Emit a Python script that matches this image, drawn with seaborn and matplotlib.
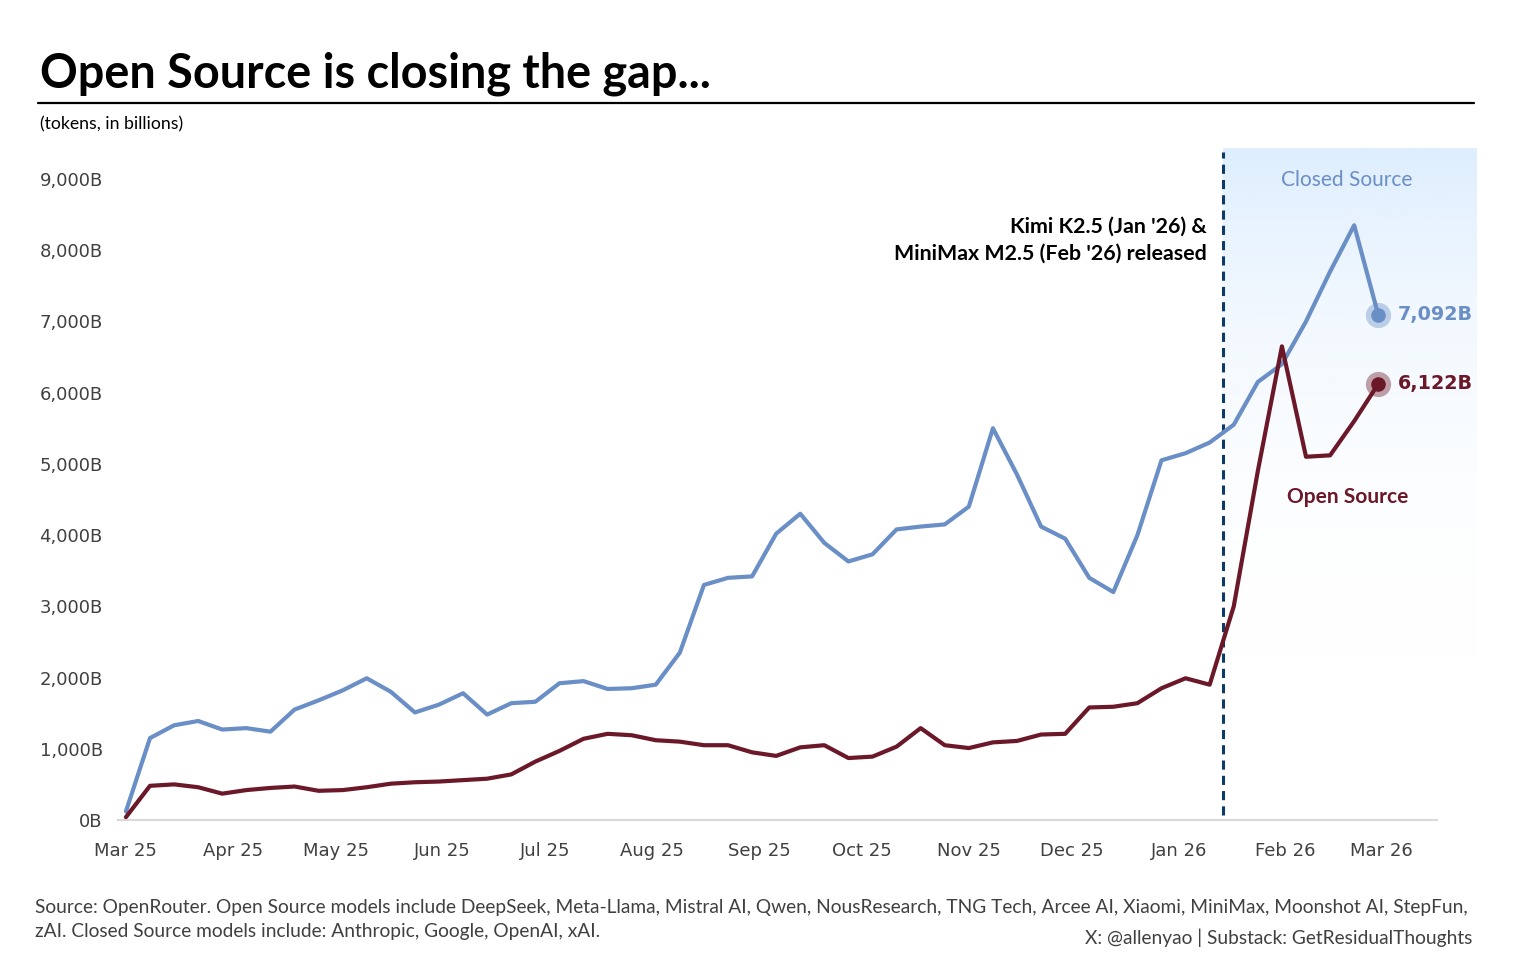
import pandas as pd
import numpy as np
import matplotlib
matplotlib.use("Agg")
import matplotlib.pyplot as plt
import matplotlib.dates as mdates
from matplotlib.lines import Line2D
from matplotlib.ticker import FuncFormatter
import seaborn as sns

# Weekly token volume on OpenRouter (billions)
START_DATE = "2025-03-01"
closed_source = [120, 1150, 1330, 1390, 1270, 1290, 1240, 1550, 1680, 1820, 1990, 1800, 1510, 1620, 1780, 1480, 1640,
                 1660, 1920, 1950, 1840, 1850, 1900, 2350, 3300, 3400, 3420, 4020, 4300, 3890, 3630, 3730, 4080, 4120,
                 4150, 4400, 5500, 4850, 4120, 3950, 3400, 3200, 4000, 5050, 5150, 5300, 5550, 6150, 6400, 7000, 7700,
                 8350, 7092]
open_source = [40, 480, 500, 460, 370, 420, 450, 470, 410, 420, 460, 510, 530, 540, 560, 580, 640,
               820, 970, 1140, 1210, 1190, 1120, 1100, 1050, 1050, 950, 900, 1020, 1050, 870, 890, 1030, 1290,
               1050, 1010, 1090, 1110, 1200, 1210, 1580, 1590, 1640, 1850, 1990, 1900, 3000, 4900, 6650, 5100, 5120,
               5600, 6122]
release_date = "2026-01-14"
y_ticks = [0, 1000, 2000, 3000, 4000, 5000, 6000, 7000, 8000, 9000]

BLUE = "#6a8ec6"
MAROON = "#6b1829"
NAVY = "#0d3b66"
GREY = "#404040"

W, H = 1531, 964


def fx(x):
    return x / W


def fy(y):
    return 1 - y / H


dates = pd.date_range(START_DATE, periods=len(closed_source), freq="7D")
df = pd.DataFrame({"Date": dates, "Closed Source": closed_source, "Open Source": open_source})
df_long = df.melt(id_vars="Date", var_name="Type", value_name="Tokens")

sns.set_style("white")
plt.rcParams["font.family"] = ["DejaVu Sans"]

fig = plt.figure(figsize=(W / 100, H / 100), dpi=100)
ax = fig.add_axes([fx(118), fy(820), fx(1477) - fx(118), fy(148) - fy(820)])

# gradient shading after the release line
start = pd.Timestamp(START_DATE)
x_left = mdates.date2num(start - pd.Timedelta(days=2.3))
x_right = mdates.date2num(start + pd.Timedelta(days=392.7))
x_rel = mdates.date2num(pd.Timestamp(release_date))
y_top = 9435

t = np.linspace(0, 1, 256)
grad = np.zeros((256, 1, 4))
grad[:, 0, 0] = 222 / 255
grad[:, 0, 1] = 238 / 255
grad[:, 0, 2] = 254 / 255
grad[:, 0, 3] = (1 - t) ** 2.5
ax.imshow(grad, extent=[x_rel, x_right, 1400, y_top], aspect="auto", origin="upper", zorder=0)

sns.lineplot(data=df_long, x="Date", y="Tokens", hue="Type",
             palette={"Closed Source": BLUE, "Open Source": MAROON},
             linewidth=3.0, ax=ax, legend=False, zorder=3)
for line in ax.get_lines():
    line.set_solid_joinstyle("round")
    line.set_solid_capstyle("round")

ax.plot([x_rel, x_rel], [70, 9380], color=NAVY, lw=2.2, linestyle=(0, (3, 2)), zorder=2)

# end markers with halo
last = df.iloc[-1]
for col, c in [("Closed Source", BLUE), ("Open Source", MAROON)]:
    ax.scatter([last["Date"]], [last[col]], s=330, color=c, alpha=0.4, lw=0, zorder=4)
    ax.scatter([last["Date"]], [last[col]], s=110, color=c, lw=0, zorder=5)
    ax.annotate(f"{last[col]:,.0f}B", (last["Date"], last[col]), xytext=(14, 0),
                textcoords="offset points", va="center", ha="left", color=c,
                fontsize=13.8, fontweight="bold", zorder=6)

ax.set_xlim(x_left, x_right)
ax.set_ylim(0, y_top)
ax.set_yticks(y_ticks)
ax.yaxis.set_major_formatter(FuncFormatter(lambda v, p: f"{v:,.0f}B"))
months = pd.date_range("2025-03-01", "2026-03-01", freq="MS")
ax.set_xticks(months)
ax.set_xticklabels([m.strftime("%b %y") for m in months])
ax.tick_params(axis="both", length=0, colors=GREY, labelsize=13)
ax.tick_params(axis="y", pad=11)
ax.tick_params(axis="x", pad=16)
ax.set_xlabel("")
ax.set_ylabel("")
for s in ["top", "right", "left"]:
    ax.spines[s].set_visible(False)
ax.spines["bottom"].set_color("#d9d9d9")
ax.spines["bottom"].set_linewidth(1.5)
ax.spines["bottom"].set_bounds(x_left, mdates.date2num(start + pd.Timedelta(days=381)))
ax.grid(False)

# labels inside the chart
fig.text(fx(1347), fy(180), "Closed Source", ha="center", va="center", color=BLUE,
         fontsize=15, family="Lato")
fig.text(fx(1348), fy(497), "Open Source", ha="center", va="center", color=MAROON,
         fontsize=15, fontweight="bold", family="Lato")
fig.text(fx(1207), fy(240), "Kimi K2.5 (Jan '26) &\nMiniMax M2.5 (Feb '26) released", ha="right",
         va="center", color="black", fontsize=15.4, fontweight="bold", family="Lato", linespacing=1.4)

# title block
fig.text(fx(40), fy(88), "Open Source is closing the gap...", ha="left", va="baseline",
         fontsize=33.7, fontweight="bold", family="Lato", color="black")
fig.add_artist(Line2D([fx(38), fx(1474)], [fy(103), fy(103)], color="black", lw=1.6))
fig.text(fx(40), fy(124), "(tokens, in billions)", ha="left", va="center", fontsize=12.7,
         family="Lato", color="black")

# footer
foot1 = ("Source: OpenRouter. Open Source models include DeepSeek, Meta-Llama, Mistral AI, Qwen, NousResearch, "
         "TNG Tech, Arcee AI, Xiaomi, MiniMax, Moonshot AI, StepFun,")
foot2 = "zAI. Closed Source models include: Anthropic, Google, OpenAI, xAI."
fig.text(fx(35), fy(907), foot1, ha="left", va="center", fontsize=13.8, family="Lato", color=GREY)
fig.text(fx(35), fy(932), foot2, ha="left", va="center", fontsize=13.8, family="Lato", color=GREY)
fig.text(fx(1472), fy(938), "X: @allenyao | Substack: GetResidualThoughts", ha="right", va="center",
         fontsize=13.8, family="Lato", color=GREY)

fig.savefig("out.png", dpi=100)
